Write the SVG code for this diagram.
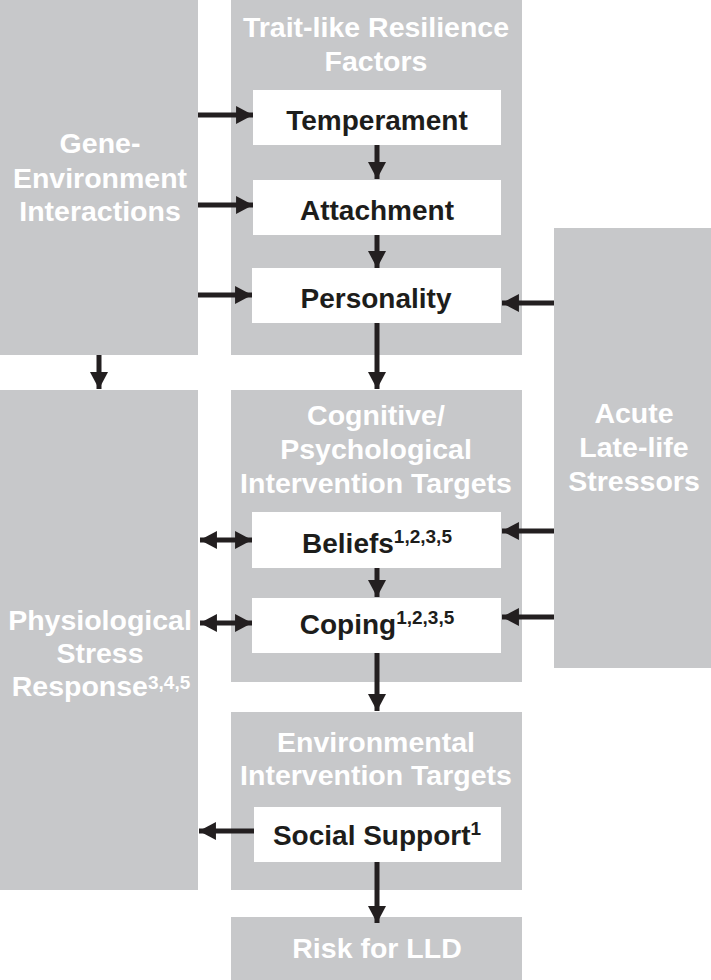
<svg xmlns="http://www.w3.org/2000/svg" width="711" height="980" viewBox="0 0 711 980">
<style>
.g{fill:#c7c8ca}
.w{fill:#ffffff}
.gt{font-family:"Liberation Sans",Arial,sans-serif;font-weight:bold;font-size:28.5px;fill:#ffffff;text-anchor:middle}
.bt{font-family:"Liberation Sans",Arial,sans-serif;font-weight:bold;font-size:28px;fill:#1d1d1b;text-anchor:middle}
.sup{font-size:19px}
.c{stroke:#231f20;stroke-width:5;fill:none}
</style>
<defs>
<marker id="ah" markerUnits="userSpaceOnUse" markerWidth="18" markerHeight="18" viewBox="0 0 16 17" refX="16" refY="8.5" orient="auto-start-reverse">
<path d="M0,0 L16,8.5 L0,17 Z" fill="#231f20"/>
</marker>
</defs>
<rect width="711" height="980" fill="#ffffff"/>
<g id="gene-environment">
<rect class="g" x="0" y="0" width="198" height="355"/>
<text class="gt" x="100" y="153">Gene-</text>
<text class="gt" x="100" y="188">Environment</text>
<text class="gt" x="100" y="221">Interactions</text>
</g>
<g id="trait-factors">
<rect class="g" x="231" y="0" width="291" height="355"/>
<text class="gt" x="376" y="37">Trait-like Resilience</text>
<text class="gt" x="376" y="71">Factors</text>
</g>
<g id="temperament">
<rect class="w" x="253" y="90" width="248" height="55"/>
<text class="bt" x="377" y="130">Temperament</text>
</g>
<g id="attachment">
<rect class="w" x="253" y="180" width="248" height="55"/>
<text class="bt" x="377" y="220">Attachment</text>
</g>
<g id="personality">
<rect class="w" x="252" y="268" width="249" height="55"/>
<text class="bt" x="376" y="308">Personality</text>
</g>
<g id="acute-stressors">
<rect class="g" x="554" y="228" width="157" height="440"/>
<text class="gt" x="634" y="423">Acute</text>
<text class="gt" x="634" y="457">Late-life</text>
<text class="gt" x="634" y="491">Stressors</text>
</g>
<g id="physiological">
<rect class="g" x="0" y="390" width="198" height="500"/>
<text class="gt" x="100" y="630">Physiological</text>
<text class="gt" x="100" y="663">Stress</text>
<text class="gt" x="101" y="696">Response<tspan class="sup" dy="-7">3,4,5</tspan></text>
</g>
<g id="cognitive-targets">
<rect class="g" x="231" y="390" width="291" height="292"/>
<text class="gt" x="376" y="425">Cognitive/</text>
<text class="gt" x="376" y="459">Psychological</text>
<text class="gt" x="376" y="493">Intervention Targets</text>
</g>
<g id="beliefs">
<rect class="w" x="252" y="512" width="249" height="56"/>
<text class="bt" x="377" y="553">Beliefs<tspan class="sup" dy="-10">1,2,3,5</tspan></text>
</g>
<g id="coping">
<rect class="w" x="252" y="598" width="249" height="55"/>
<text class="bt" x="377" y="634">Coping<tspan class="sup" dy="-10">1,2,3,5</tspan></text>
</g>
<g id="environmental-targets">
<rect class="g" x="231" y="712" width="291" height="178"/>
<text class="gt" x="376" y="752">Environmental</text>
<text class="gt" x="376" y="785">Intervention Targets</text>
</g>
<g id="social-support">
<rect class="w" x="254" y="807" width="247" height="55"/>
<text class="bt" x="377" y="845">Social Support<tspan class="sup" dy="-10">1</tspan></text>
</g>
<g id="risk">
<rect class="g" x="231" y="917" width="291" height="63"/>
<text class="gt" x="377" y="958">Risk for LLD</text>
</g>
<g id="connectors">
<line class="c" x1="198" y1="115" x2="253" y2="115" marker-end="url(#ah)"/>
<line class="c" x1="198" y1="205" x2="253" y2="205" marker-end="url(#ah)"/>
<line class="c" x1="198" y1="295" x2="252" y2="295" marker-end="url(#ah)"/>
<line class="c" x1="377" y1="145" x2="377" y2="179" marker-end="url(#ah)"/>
<line class="c" x1="377" y1="235" x2="377" y2="268" marker-end="url(#ah)"/>
<line class="c" x1="377" y1="323" x2="377" y2="389" marker-end="url(#ah)"/>
<line class="c" x1="99" y1="355" x2="99" y2="389" marker-end="url(#ah)"/>
<line class="c" x1="554" y1="303" x2="502" y2="303" marker-end="url(#ah)"/>
<line class="c" x1="554" y1="531" x2="502" y2="531" marker-end="url(#ah)"/>
<line class="c" x1="554" y1="617" x2="502" y2="617" marker-end="url(#ah)"/>
<line class="c" x1="200" y1="540" x2="252" y2="540" marker-start="url(#ah)" marker-end="url(#ah)"/>
<line class="c" x1="200" y1="623" x2="252" y2="623" marker-start="url(#ah)" marker-end="url(#ah)"/>
<line class="c" x1="377" y1="568" x2="377" y2="597" marker-end="url(#ah)"/>
<line class="c" x1="377" y1="653" x2="377" y2="711" marker-end="url(#ah)"/>
<line class="c" x1="254" y1="831" x2="199" y2="831" marker-end="url(#ah)"/>
<line class="c" x1="377" y1="862" x2="377" y2="923" marker-end="url(#ah)"/>
</g>
</svg>
